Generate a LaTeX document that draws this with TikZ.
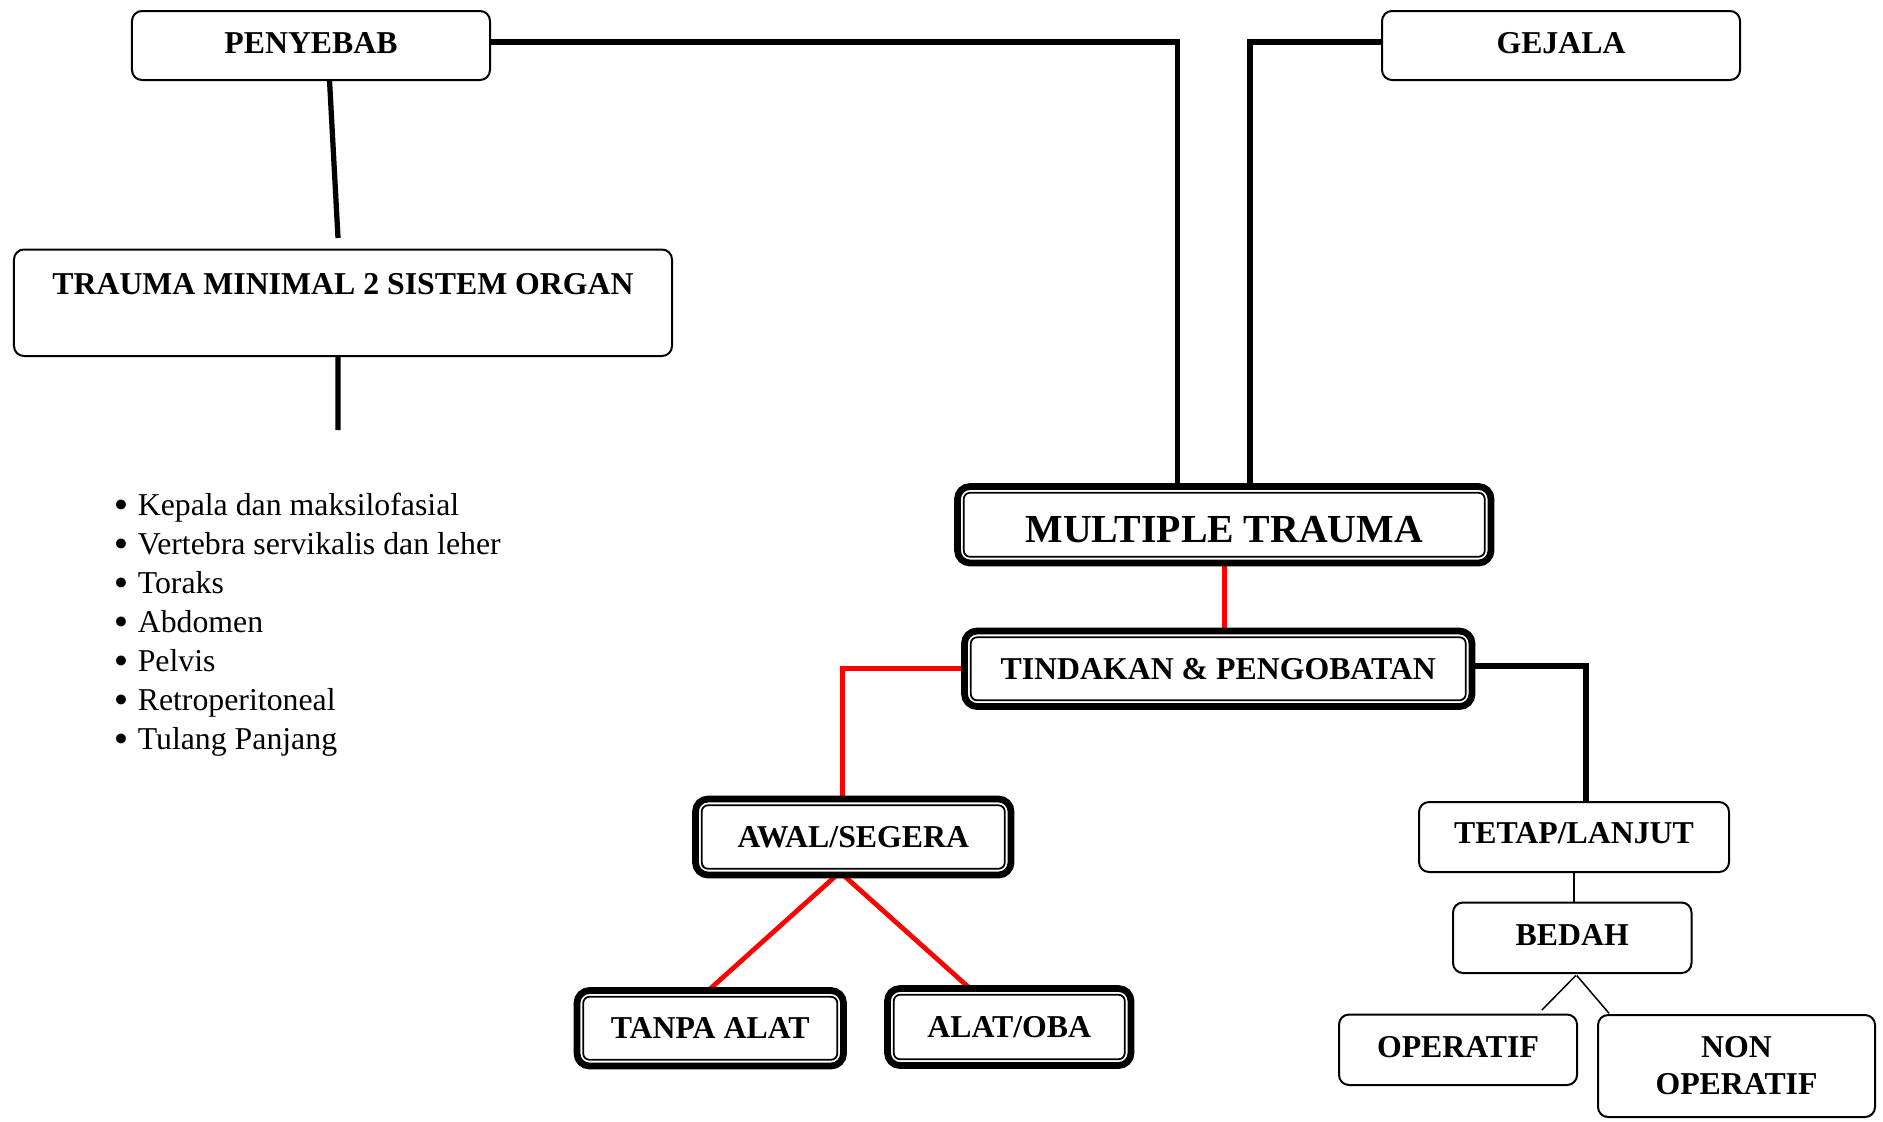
\documentclass[tikz,border=0pt]{standalone}
\usepackage{fontspec}
\setmainfont{Liberation Serif}
\newfontfamily\bulletfont{DejaVu Sans}
\pgfdeclarelayer{background}
\pgfsetlayers{background,main}
\begin{document}
\begin{tikzpicture}[x=0.4pt,y=-0.4pt,
  lbl/.style={font=\fontsize{12.72}{14.8}\selectfont\bfseries},
  sbox/.style={lbl, draw, line width=0.8pt, rounded corners=4pt, inner sep=0pt, outer sep=0pt},
  dbox/.style={lbl, draw, line width=2.7pt, rounded corners=5pt, inner sep=0pt, outer sep=0pt},
  innerframe/.style={line width=0.7pt, rounded corners=2.5pt},
  blk/.style={line width=2.1pt},
  redl/.style={line width=1.9pt, draw=red},
  thinl/.style={line width=0.6pt},
  item/.style={anchor=base west, inner sep=0pt, font=\fontsize{12.72}{15.6}\selectfont}
]
\useasboundingbox (0,0) rectangle (1883,1121);

% simple boxes
\node[sbox, minimum width=143.2pt, minimum height=27.6pt, text height=8.4pt, text depth=2pt] (pe) at (311,45.5) {PENYEBAB};
\node[sbox, minimum width=143.2pt, minimum height=27.6pt, text height=8.4pt, text depth=2pt] (ge) at (1561,45.5) {GEJALA};
\node[sbox, minimum width=263.2pt, minimum height=42.6pt, text height=8.4pt, text depth=15.2pt] (tm) at (343,302.75) {TRAUMA MINIMAL 2 SISTEM ORGAN};
\node[sbox, minimum width=124pt, minimum height=28pt, text height=8.4pt, text depth=3.2pt] (tl) at (1574,837) {TETAP/LANJUT};
\node[sbox, minimum width=95.4pt, minimum height=28.2pt, text height=8.4pt, text depth=2.4pt] (bd) at (1572.25,937.75) {BEDAH};
\node[sbox, minimum width=95.2pt, minimum height=28.2pt, text height=8.4pt, text depth=2.4pt] (op) at (1458,1049.75) {OPERATIF};
\node[sbox, align=center, minimum width=110.8pt, minimum height=40.8pt] (no) at (1736.5,1066) {NON\\OPERATIF};

% double-framed boxes
\node[dbox, minimum width=213.4pt, minimum height=30.6pt, font=\fontsize{15.9}{18}\selectfont\bfseries, text height=14pt, text depth=0pt] (mt) at (1224.25,524.75) {MULTIPLE TRAUMA};
\node[dbox, minimum width=203pt, minimum height=30.2pt] (td) at (1218.25,668.75) {TINDAKAN \& PENGOBATAN};
\node[dbox, minimum width=126.2pt, minimum height=30.4pt] (aw) at (853.25,837) {AWAL/SEGERA};
\node[dbox, minimum width=106.6pt, minimum height=30.2pt] (ta) at (710.25,1028.25) {TANPA ALAT};
\node[dbox, minimum width=97.4pt, minimum height=30.8pt] (ao) at (1009.25,1027) {ALAT/OBA};
\foreach \n in {mt,td,aw,ta,ao}
  \draw[innerframe] ([shift={(2.5pt,2.5pt)}]\n.south west) rectangle ([shift={(-2.5pt,-2.5pt)}]\n.north east);

% bullet list
\foreach \t [count=\i] in {Kepala dan maksilofasial, Vertebra servikalis dan leher, Toraks, Abdomen, Pelvis, Retroperitoneal, Tulang Panjang}
  \node[item] (b\i) at (137.3,{515+39.05*(\i-1)}) {\llap{\makebox[0pt]{\bulletfont\fontsize{13.5}{13.5}\selectfont\raisebox{-0.9pt}[0pt][0pt]{•}}\hspace{6.6pt}}\t};

% connectors
\coordinate (j1) at (1177.5,42);
\coordinate (j2) at (1250,42);
\coordinate (j3) at (842.3,668.75);
\coordinate (j4) at (1586,666);
\coordinate (t1) at (338,238);
\coordinate (t2) at (338,430);
\coordinate (o1) at (1541.9,1010);
\coordinate (o2) at (1609,1013.3);

\begin{pgfonlayer}{background}
\draw[blk] (pe.east |- j1) -- (j1) -- (j1 |- mt.north);
\draw[blk] (ge.west |- j2) -- (j2) -- (j2 |- mt.north);
\draw[blk] ([xshift=7.4pt]pe.south) -- (t1);
\draw[blk] ([xshift=-2pt]tm.south) -- (t2);

\draw[redl] (mt.south) -- (mt.south |- td.north);
\draw[redl] (td.west) -- (j3) -- (j3 |- aw.north);
\draw[redl] ([xshift=-6.6pt]aw.south) -- ([xshift=-0.8pt]ta.north);
\draw[redl] ([xshift=-4pt]aw.south) -- ([xshift=-15.7pt]ao.north);

\draw[blk] (td.east |- j4) -- (j4) -- (j4 |- tl.north);

\draw[thinl] (tl.south) -- (tl.south |- bd.north);
\draw[thinl] ([xshift=1.4pt,yshift=-1pt]bd.south) -- (o1);
\draw[thinl] ([xshift=1.8pt,yshift=-1pt]bd.south) -- (o2);
\end{pgfonlayer}
\end{tikzpicture}
\end{document}
